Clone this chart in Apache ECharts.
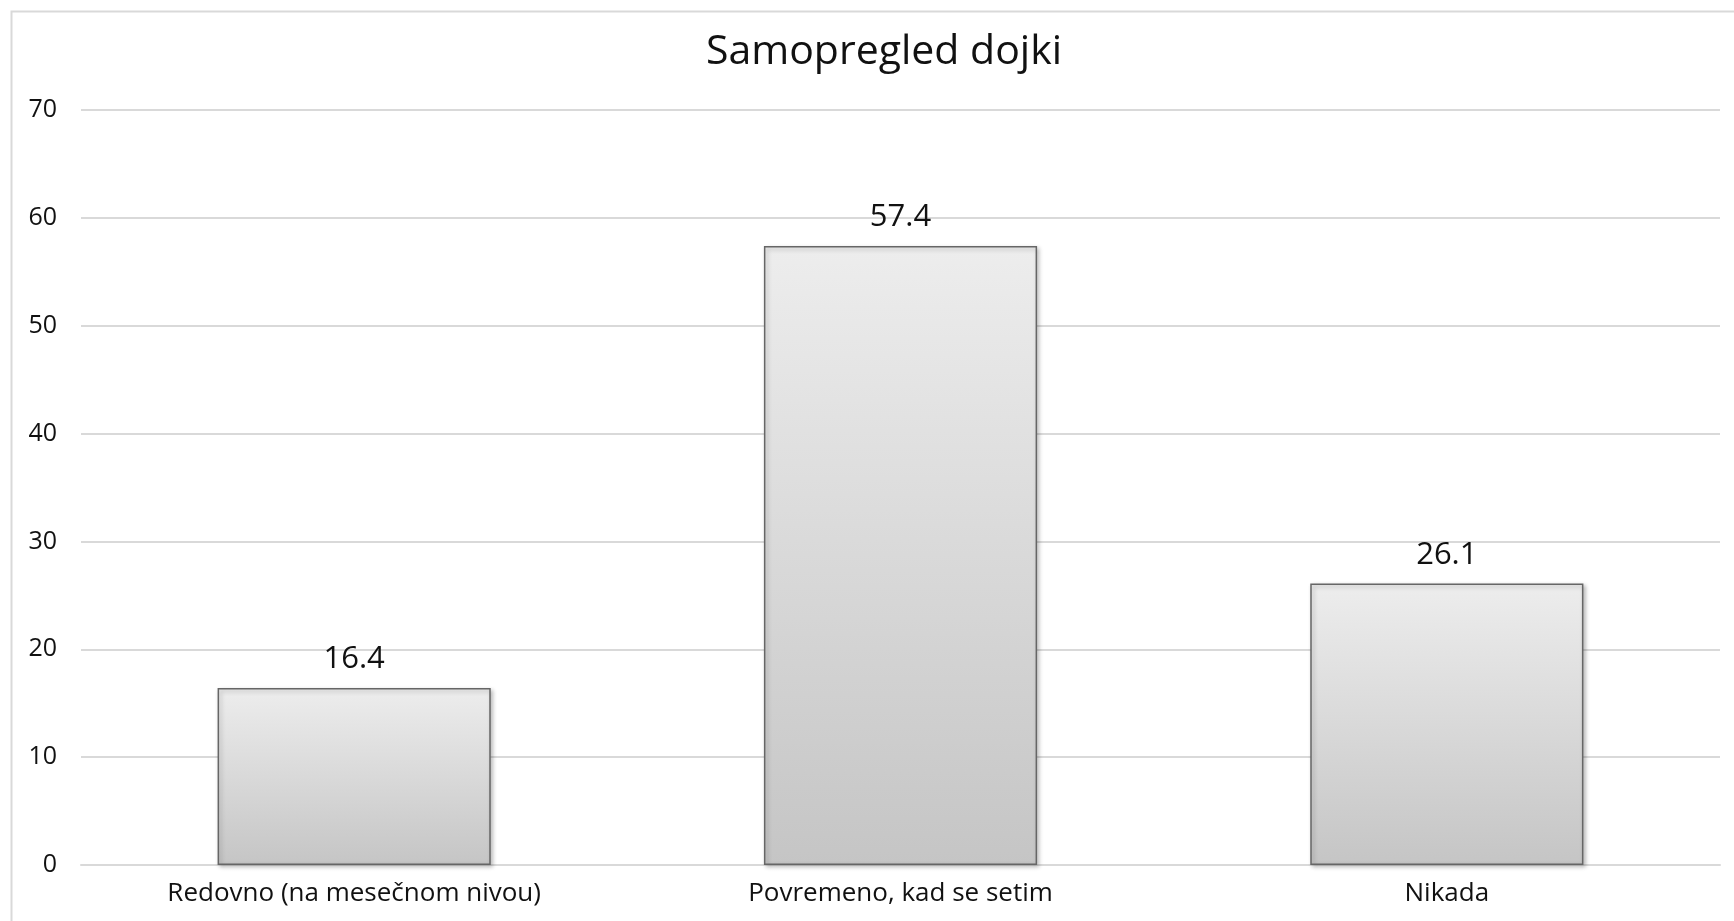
<!DOCTYPE html>
<html>
<head>
<meta charset="utf-8">
<script src="https://cdn.jsdelivr.net/npm/echarts@6/dist/echarts.min.js"></script>
<style>
  html, body { margin: 0; padding: 0; background: #fff; }
  #chart { width: 1734px; height: 921px; }
</style>
</head>
<body>
<div id="chart"></div>
<script>
const title = 'Samopregled dojki'
const categories = ['Redovno (na mesečnom nivou)', 'Povremeno, kad se setim', 'Nikada']
const values = [16.4, 57.4, 26.1]

const font = '"Open Sans", sans-serif'

const chart = echarts.init(document.getElementById('chart'))

const option = {
  animation: false,
  backgroundColor: '#fff',
  title: {
    text: title,
    left: 879,
    top: 27,
    textAlign: 'center',
    textStyle: {
      fontFamily: font,
      fontSize: 41,
      fontWeight: 'normal',
      color: '#111',
    },
  },
  graphic: [
    {
      type: 'rect',
      silent: true,
      shape: { x: 11.5, y: 11.5, width: 1800, height: 1000 },
      style: { fill: 'none', stroke: '#d9d9d9', lineWidth: 2 },
    },
  ],
  grid: {
    left: 81,
    right: 14,
    top: 110,
    bottom: 56,
  },
  xAxis: {
    type: 'category',
    data: categories,
    axisLine: { lineStyle: { color: '#d9d9d9', width: 2 } },
    axisTick: { show: false },
    axisLabel: {
      margin: 16,
      fontFamily: font,
      fontSize: 26,
      color: '#111',
    },
  },
  yAxis: {
    type: 'value',
    min: 0,
    max: 70,
    interval: 10,
    axisLine: { show: false },
    axisTick: { show: false },
    splitLine: { lineStyle: { color: '#d9d9d9', width: 2 } },
    axisLabel: {
      margin: 24,
      fontFamily: font,
      fontSize: 25,
      color: '#111',
    },
  },
  series: [
    {
      type: 'bar',
      data: values,
      barWidth: '50%',
      itemStyle: {
        color: new echarts.graphic.LinearGradient(0, 0, 0, 1, [
          { offset: 0, color: '#ededed' },
          { offset: 1, color: '#c5c5c5' },
        ]),
        borderColor: '#666',
        borderWidth: 1.5,
        shadowColor: 'rgba(0,0,0,0.25)',
        shadowBlur: 4,
        shadowOffsetX: 2,
        shadowOffsetY: 2,
      },
      label: {
        show: true,
        position: 'top',
        distance: 13,
        fontFamily: font,
        fontSize: 31,
        color: '#111',
      },
    },
  ],
}

chart.setOption(option)
</script>
</body>
</html>
